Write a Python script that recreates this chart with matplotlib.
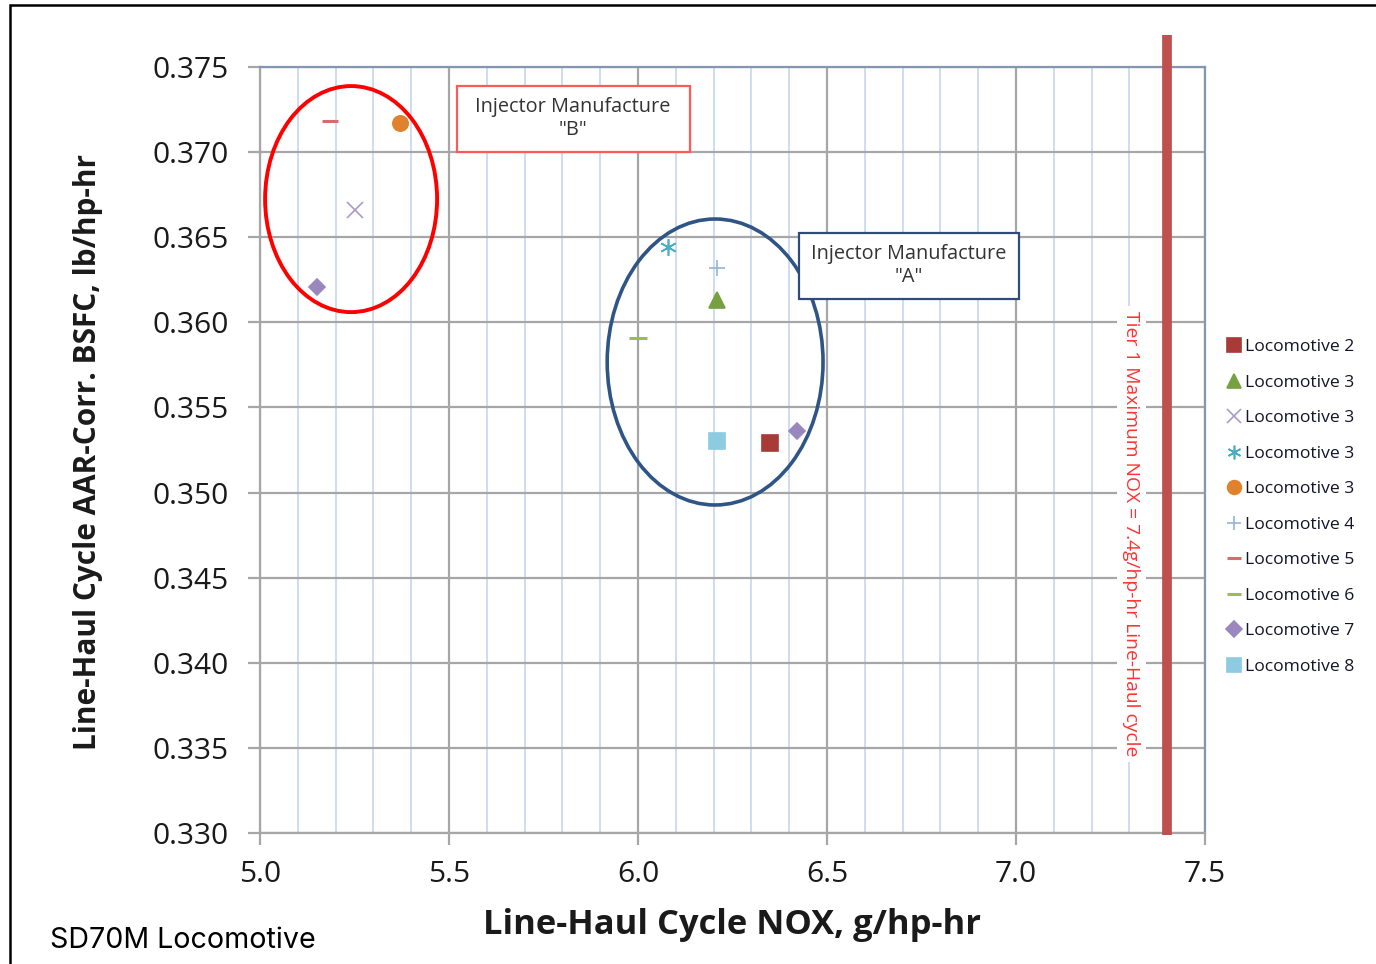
import matplotlib
matplotlib.use("Agg")
import matplotlib.pyplot as plt
from matplotlib.patches import Ellipse, Rectangle
from matplotlib.lines import Line2D
import numpy as np

# ---- data ----
x_ticks = [5.0, 5.5, 6.0, 6.5, 7.0, 7.5]
x_tick_labels = ["5.0", "5.5", "6.0", "6.5", "7.0", "7.5"]
y_ticks = [0.330, 0.335, 0.340, 0.345, 0.350, 0.355, 0.360, 0.365, 0.370, 0.375]
y_tick_labels = ["0.330", "0.335", "0.340", "0.345", "0.350", "0.355", "0.360", "0.365", "0.370", "0.375"]

series_names = ["Locomotive 2", "Locomotive 3", "Locomotive 3", "Locomotive 3", "Locomotive 3",
                "Locomotive 4", "Locomotive 5", "Locomotive 6", "Locomotive 7", "Locomotive 8"]
series_x = [[6.35], [6.21], [5.25], [6.08], [5.37], [6.21], [5.185], [6.00], [5.15, 6.42], [6.21]]
series_y = [[0.3529], [0.3613], [0.3666], [0.3644], [0.3717], [0.3632], [0.3718], [0.3591],
            [0.3621, 0.3536], [0.3530]]
series_markers = ["s", "^", "x", (6, 2, 0), "o", "+", "_", "_", "D", "s"]
series_sizes = [11, 11, 12, 12, 11, 12, 11, 13, 8.5, 11]
series_colors = ["#a83a37", "#77a040", "#a99bc6", "#4bacc6", "#e0812e", "#95b3d7", "#d36e6b",
                 "#9bbb59", "#9a87bd", "#8ccbe0"]

tier1_nox = 7.4

plt.rcParams['font.family'] = ['Open Sans', 'DejaVu Sans']

fig = plt.figure(figsize=(13.76, 9.64), dpi=100)
ax = fig.add_axes([260/1376, 1-833/964, (1205-260)/1376, (833-67)/964])

ax.set_xlim(5.0, 7.5)
ax.set_ylim(0.330, 0.375)

# grid
ax.set_xticks(x_ticks)
ax.set_xticklabels(x_tick_labels)
ax.set_yticks(y_ticks)
ax.set_yticklabels(y_tick_labels)
ax.set_xticks(np.arange(5.1, 7.5, 0.1), minor=True)
ax.grid(which="minor", axis="x", color="#c6d6ef", lw=1.2, zorder=0)
ax.grid(which="major", axis="both", color="#a6a6a6", lw=1.6, zorder=0)
ax.set_axisbelow(True)

ax.tick_params(axis="both", which="major", length=8.5, width=1.6, color="#a6a6a6",
               labelsize=21.5, labelcolor="#1a1a1a")
ax.tick_params(axis="y", which="major", pad=14)
ax.tick_params(axis="x", which="major", pad=11)
ax.tick_params(axis="x", which="minor", length=0)
for s in ["left", "bottom"]:
    ax.spines[s].set_color("#a6a6a6")
    ax.spines[s].set_linewidth(1.6)
for s in ["top", "right"]:
    ax.spines[s].set_color("#8497b0")
    ax.spines[s].set_linewidth(1.6)

ax.set_xlabel("Line-Haul Cycle NOX, g/hp-hr", fontsize=24.8, fontweight="bold",
              color="#1a1a1a")
ax.set_ylabel("Line-Haul Cycle AAR-Corr. BSFC, lb/hp-hr", fontsize=21.4, fontweight="bold",
              color="#1a1a1a")
ax.xaxis.set_label_coords((732-260)/945, (833-925)/766)
ax.yaxis.set_label_coords((88-260)/945, (833-452)/766)
ax.xaxis.label.set_va("center")
ax.yaxis.label.set_va("center")

# scatter series
handles = []
for name, xs, ys, m, sz, c in zip(series_names, series_x, series_y, series_markers,
                                  series_sizes, series_colors):
    mew = 2.2 if m == "_" else 1.2
    ax.plot(xs, ys, linestyle="none", marker=m, color=c, markersize=sz,
            markeredgewidth=mew, zorder=4)
    handles.append(Line2D([], [], linestyle="none", marker=m, color=c,
                          markersize=min(sz, 11) * 0.9, markeredgewidth=mew, label=name))

# Tier 1 limit line
ax.plot([tier1_nox, tier1_nox], [0.3299, 0.37688], color="#c0504d", lw=7,
        solid_capstyle="butt", clip_on=False, zorder=3)
ax.text(7.305, 0.34756, "Tier 1 Maximum NOX = 7.4g/hp-hr Line-Haul cycle", rotation=-90,
        color="#ff3333", fontsize=13.9, ha="center", va="center", zorder=2,
        bbox=dict(facecolor="white", edgecolor="none", pad=4))

# ellipses
ax.add_patch(Ellipse((5.241, 0.36724), 0.455, 0.01328, fill=False, edgecolor="#ff0000",
                     lw=2.8, zorder=5))
ax.add_patch(Ellipse((6.204, 0.35767), 0.571, 0.0168, fill=False, edgecolor="#2f5587",
                     lw=2.6, zorder=5))

# annotation boxes
ax.add_patch(Rectangle((5.521, 0.37001), 6.138 - 5.521, 0.37388 - 0.37001, facecolor="white",
                       edgecolor="#ff5a5a", lw=1.6, zorder=6))
ax.text(5.828, 0.37195, "Injector Manufacture\n\"B\"", ha="center", va="center",
        fontsize=14.3, color="#333333", linespacing=1.2, zorder=7)
ax.add_patch(Rectangle((6.426, 0.36137), 7.008 - 6.426, 0.36525 - 0.36137, facecolor="white",
                       edgecolor="#2f4b7c", lw=1.6, zorder=6))
ax.text(6.717, 0.36331, "Injector Manufacture\n\"A\"", ha="center", va="center",
        fontsize=14.3, color="#333333", linespacing=1.2, zorder=7)

# legend
leg = fig.legend(handles=handles, loc="center left", bbox_to_anchor=(1219/1376, 1-507/964),
                 frameon=False, fontsize=12.6, handlelength=0.9, handletextpad=0.2,
                 labelspacing=1.1, borderaxespad=0)
for t in leg.get_texts():
    t.set_color("#141428")

# outer frame
fig.patches.append(Rectangle((10/1376, -0.05), 1.2, 1 - 5/964 + 0.05, transform=fig.transFigure,
                             fill=False, edgecolor="black", lw=1.8))

fig.text(50/1376, 1-940/964, "SD70M Locomotive", fontsize=20.6, family=["Inter", "DejaVu Sans"],
         color="black", va="center", ha="left")

fig.savefig("out.png", dpi=100)
